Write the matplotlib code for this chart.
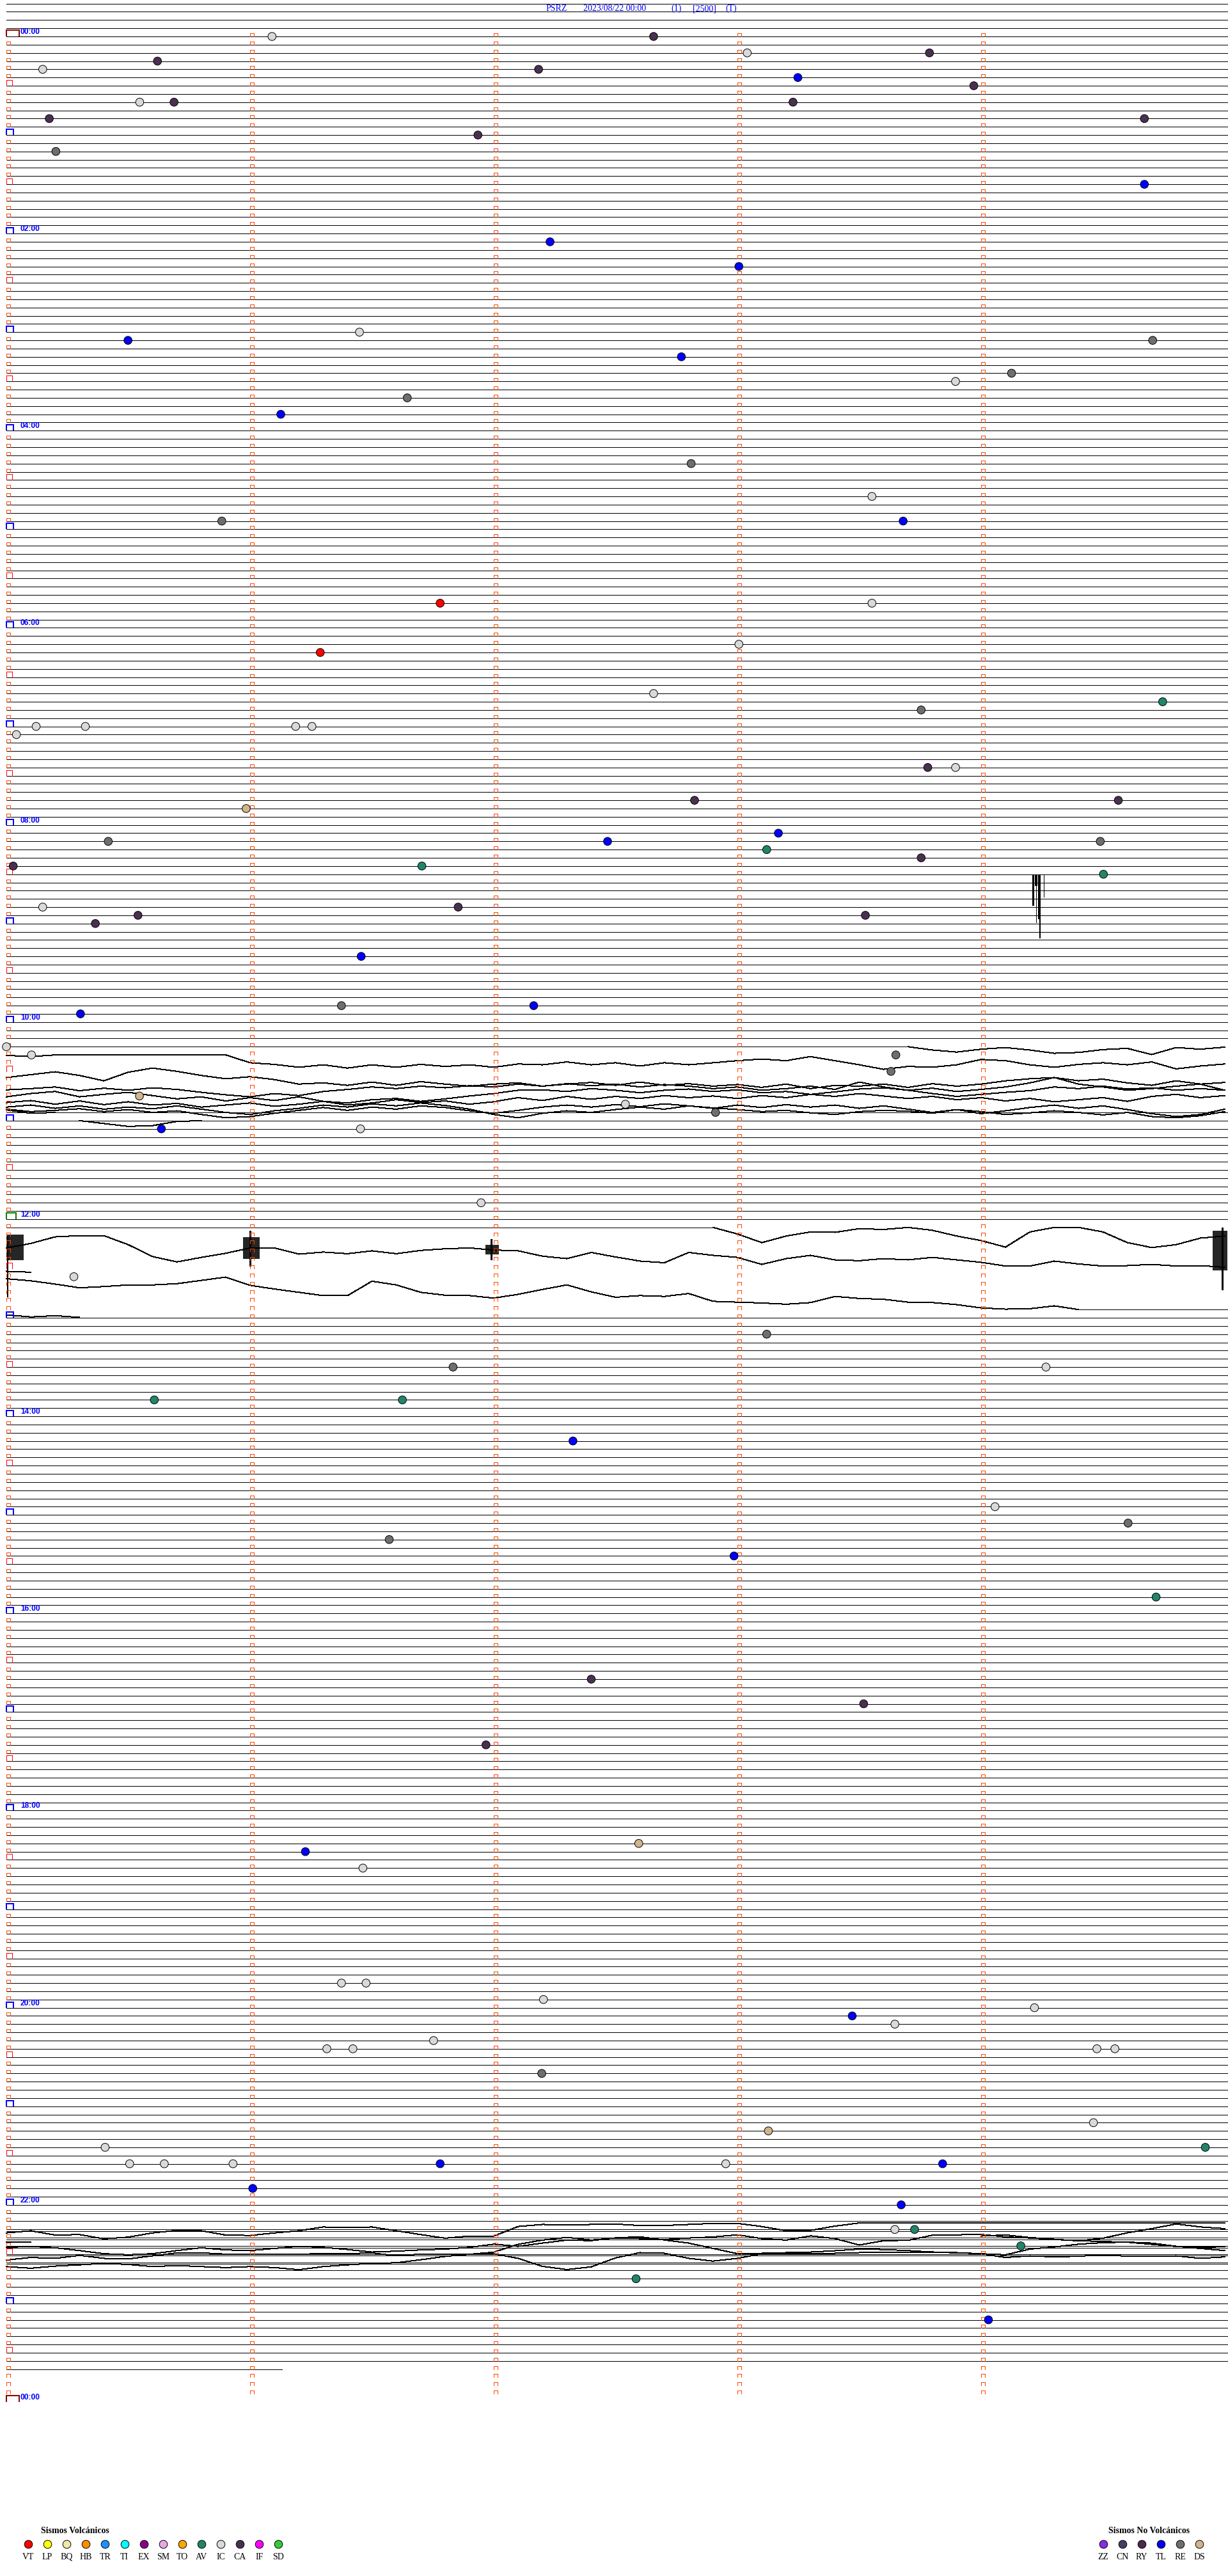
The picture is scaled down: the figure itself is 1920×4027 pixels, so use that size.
import matplotlib

matplotlib.use("Agg")

import matplotlib.pyplot as plt
from matplotlib.collections import LineCollection

FIG_W, FIG_H, DPI = 1920, 4027, 100
ONE_PX = 72 / DPI        # a one-pixel stroke in points

# helicorder layout: one row = 5 minutes, 12 rows per hour
ROWS_PER_HOUR = 12
FIRST_ROW = -4           # leftover rows of the previous day
LAST_ROW = 284           # row where the record stops
LAST_ROW_END = 1.13      # minutes into that row
BOXED_ROWS = 288
GAP_ROWS = list(range(147, 155))
DOUBLED_ROWS = [267, 268, 269, 270, 271]
SAMPLE_STEP = 0.1        # minutes between trace samples

TITLE_PARTS = ["PSRZ", "2023/08/22 00:00", "(1)", "[2500]", "(T)"]

# ---- events: row, minute inside the row, type ---------------------------------
EVENT_ROW = [0, 0, 2, 2, 3, 4, 4, 5, 6, 8, 8, 8, 10, 10, 12, 14, 18, 25, 28, 37,
             36, 37, 39, 41, 42, 44, 46, 52, 56, 59, 59, 69, 69, 74, 75, 80, 81, 82, 85, 84,
             84, 84, 84, 89, 89, 93, 93, 94, 98, 97, 98, 99, 98, 100, 101, 101, 102, 106, 106, 107,
             108, 107, 112, 118, 118, 119, 123, 124, 124, 126, 129, 130, 131, 133, 133, 142, 151, 158, 162, 162,
             166, 166, 171, 179, 181, 183, 185, 190, 200, 203, 208, 220, 221, 223, 237, 237, 239, 240, 241, 242,
             245, 245, 244, 245, 245, 248, 254, 255, 257, 257, 259, 259, 259, 259, 259, 259, 262, 264, 267, 267,
             269, 273, 278]
EVENT_MIN = [1.09, 2.656, 3.788, 3.04, 0.62, 0.149, 2.184, 3.248, 3.97, 0.547, 0.688, 3.228, 0.176, 4.67, 1.935, 0.203, 4.67, 2.231, 3.006, 0.499,
             1.449, 4.704, 2.77, 4.125, 3.895, 1.645, 1.126, 2.81, 3.552, 3.68, 0.884, 1.78, 3.552, 3.006, 1.288, 2.656, 4.745, 3.754, 0.041, 0.122,
             0.324, 1.187, 1.254, 3.781, 3.895, 2.824, 4.563, 0.984, 0.418, 3.168, 2.467, 3.12, 4.489, 3.754, 0.028, 1.705, 4.502, 0.149, 1.854, 0.54,
             0.365, 3.525, 1.456, 1.375, 2.164, 0.304, 0.0, 0.103, 3.65, 3.63, 0.546, 2.54, 2.91, 0.636, 1.453, 1.948, 0.277, 3.12, 1.833, 4.266,
             0.607, 1.625, 2.325, 4.057, 4.603, 1.571, 2.986, 4.718, 2.4, 3.518, 1.968, 2.595, 1.227, 1.463, 1.375, 1.476, 2.204, 4.219, 3.471, 3.646,
             1.315, 1.422, 1.753, 4.475, 4.549, 2.197, 4.461, 3.127, 0.405, 4.92, 0.506, 0.648, 0.93, 1.78, 2.952, 3.842, 1.011, 3.672, 3.646, 3.727,
             4.163, 2.584, 4.03]
EVENT_TYPE = ["IC", "CA", "CA", "IC", "CA", "IC", "CA", "TL", "CA", "IC", "CA", "CA", "CA", "CA", "CA", "RE", "TL", "TL", "TL", "TL",
              "IC", "RE", "TL", "RE", "IC", "RE", "TL", "RE", "IC", "TL", "RE", "VT", "IC", "IC", "VT", "IC", "AV", "RE", "IC", "IC",
              "IC", "IC", "IC", "CA", "IC", "CA", "CA", "DS", "RE", "TL", "TL", "AV", "RE", "CA", "CA", "AV", "AV", "IC", "CA", "CA",
              "CA", "CA", "TL", "RE", "TL", "TL", "IC", "IC", "RE", "RE", "DS", "IC", "RE", "TL", "IC", "IC", "IC", "RE", "RE", "IC",
              "AV", "AV", "TL", "IC", "RE", "RE", "TL", "AV", "CA", "CA", "CA", "DS", "TL", "IC", "IC", "IC", "IC", "IC", "TL", "IC",
              "IC", "IC", "IC", "IC", "IC", "RE", "IC", "DS", "IC", "AV", "IC", "IC", "IC", "TL", "IC", "TL", "TL", "TL", "IC", "AV",
              "AV", "AV", "TL"]

# ---- legend ---------------------------------------------------------------------
VOLC_CODES = ["VT", "LP", "BQ", "HB", "TR", "TI", "EX", "SM", "TO", "AV", "IC", "CA", "IF", "SD"]
VOLC_COLORS = ["#ff0000", "#ffff00", "#eee8aa", "#ff8c00", "#1e90ff", "#00ffff", "#8b008b",
               "#e6a8e6", "#ffa500", "#21856a", "#d9d9d9", "#4a3050", "#ff00ff", "#32cd32"]
NONVOLC_CODES = ["ZZ", "CN", "RY", "TL", "RE", "DS"]
NONVOLC_COLORS = ["#8a2be2", "#4a3b66", "#4b2a4b", "#0000ff", "#6e6e6e", "#d2b48c"]

# ---- traces: offsets in row heights (positive = down), one sample every 0.1 min --
# 10:00 block
T123 = [0.0, 0.4, 0.65, 0.3, 0.1, 0.4, 0.8, 0.7, 0.35, 0.2, 0.95, 0.1, 0.3, 0.05]
T124 = [0.05, 0.2, 0, 0, 0, 0, 0, 0, 0, 0, 0.95, 1.15, 1.5, 1.2, 1.6, 1.2, 1.5, 1.15, 1.4, 1.2,
        1.5, 1.1, 1.2, 0.85, 1.2, 0.95, 1.35, 0.95, 1.2, 0.95, 0.7, 0.5, 0.7, 0.2, 0.7, 1.2, 1.75, 1.4, 1.5, 1.2,
        0.55, 0.7, 1.2, 1.5, 1.15, 0.95, 1.2, 0.85, 1.7, 1.35, 1.1]
T125 = [1.75, 1.4, 1.05, 1.5, 2.15, 1.1, 0.6, 1.0, 1.5, 1.9, 1.65, 2.0, 2.55, 2.4, 2.7, 2.3, 2.7, 2.25, 2.55, 2.8,
        2.55, 2.4, 2.8, 2.55, 2.35, 2.7, 2.3, 2.7, 2.5, 2.8, 2.6, 2.95, 2.55, 3.1, 2.7, 2.8, 2.55, 2.95, 2.5, 2.8,
        2.55, 2.15, 1.9, 1.75, 2.15, 1.95, 2.4, 2.7, 2.15, 2.55, 2.35]
T126 = [2.25, 2.1, 1.9, 2.35, 2.05, 2.3, 2.0, 2.2, 2.55, 2.85, 3.1, 2.7, 2.95, 2.45, 2.2, 1.9, 2.1, 1.8, 2.0, 1.75,
        1.9, 1.55, 1.8, 1.5, 1.75, 1.55, 1.9, 1.6, 1.8, 2.1, 1.9, 2.3, 2.1, 1.8, 2.2, 1.3, 1.9, 2.3, 2.05, 2.45,
        2.2, 1.9, 1.4, 0.75, 1.55, 1.9, 2.3, 2.1, 1.8, 1.55, 2.3]
T127 = [2.1, 1.7, 1.45, 2.1, 1.8, 1.55, 1.95, 2.35, 2.1, 2.6, 2.2, 2.55, 2.1, 2.65, 2.85, 2.45, 2.3, 2.65, 2.35, 2.0,
        1.7, 1.3, 1.25, 1.45, 1.1, 1.3, 1.6, 1.3, 1.15, 1.45, 1.25, 1.6, 1.45, 1.8, 1.5, 1.15, 1.0, 1.3, 1.7, 2.05,
        1.8, 1.55, 1.35, 0.9, 1.1, 0.8, 1.15, 1.0, 1.3, 1.1, 1.3]
T128 = [1.8, 1.55, 2.0, 1.6, 2.05, 1.7, 2.1, 1.9, 2.35, 2.1, 1.85, 2.25, 2.0, 1.65, 2.1, 1.85, 1.45, 1.8, 1.6, 2.0,
        1.7, 1.2, 1.55, 1.05, 1.4, 1.05, 1.3, 0.95, 1.2, 1.0, 1.3, 0.95, 1.2, 0.8, 1.05, 0.7, 1.0, 1.3, 1.05, 1.45,
        1.2, 1.6, 1.3, 1.7, 1.45, 1.2, 1.65, 1.05, 0.8, 1.2, 0.95]
T129 = [1.35, 1.1, 1.5, 1.2, 1.6, 1.35, 1.55, 1.2, 1.6, 2.0, 2.25, 1.8, 1.5, 1.1, 1.35, 0.95, 1.2, 0.85, 1.15, 1.6,
        2.25, 2.65, 2.1, 1.8, 2.0, 1.65, 1.35, 1.6, 1.2, 1.5, 1.1, 1.4, 1.05, 1.35, 1.1, 1.5, 1.2, 1.6, 2.0, 1.65,
        2.15, 1.8, 1.4, 1.1, 1.5, 1.2, 1.65, 2.15, 2.5, 2.25, 1.6]
T130 = [0.6, 0.9, 0.75, 0.55, 0.9, 0.65, 1.0, 0.8, 1.25, 1.65, 1.5, 1.1, 0.75, 0.4, 0.75, 0.35, 0.6, 0.2, 0.4, 0.8,
        1.1, 0.75, 0.35, 0.1, 0.35, 0.05, 0.3, -0.05, 0.2, 0.45, 0.65, 0.9, 0.75, 1.05, 1.25, 0.9, 0.75, 0.85, 1.1, 0.65,
        0.9, 1.25, 1.05, 0.8, 1.0, 1.3, 1.0, 1.5, 1.65, 1.4, 0.9]
T131 = [-0.3, 0.1, 0.0]
T132 = [0.0, 0.35, 0.7, 0.6, 0.1, 0.0]
# 12:00 block
T145 = [0, 0.8, 1.85, 1.05, 0.55, 0.6, 0.15, 0.25, 0, 0.35, 1.05, 1.6, 2.4, 0.55, 0, 0, 0.55, 1.85, 2.45, 2.1,
        1.3, 1.05]
T146 = [1.5, 0.95, 0.15, 0, 0, 1.1, 2.55, 3.2, 2.65, 2.15, 1.5, 1.5, 2.25, 2.0, 2.2, 1.85, 2.2, 1.8, 1.6, 1.5,
        1.75, 1.85, 2.5, 2.8, 2.05, 2.6, 3.1, 3.3, 2.05, 2.4, 2.65, 3.5, 2.8, 2.4, 2.95, 3.05, 2.8, 2.95, 2.65, 2.95,
        3.25, 3.7, 3.7, 3.1, 3.45, 3.7, 3.65, 3.5, 3.7, 3.65, 3.85]
T147 = [3.35, 3.45]
T155 = [-3.75, -3.5, -3.1, -2.65, -2.8, -3.0, -3.0, -3.15, -3.55, -3.95, -2.95, -2.5, -2.1, -1.7, -1.7, -3.45, -3.0,
        -2.1, -1.75, -1.7, -1.4, -1.85, -2.45, -3.0, -2.15, -1.5, -1.7, -1.6, -1.95, -1.0, -0.9, -0.8, -0.65, -0.85,
        -1.6, -1.35, -1.25, -0.9, -0.85, -0.6, -0.2, -0.05, -0.1, -0.45, 0]
T156 = [-0.35, -0.1, -0.25, -0.05]
# 22:00 block
T266 = [1.42, 1.16, 1.68, 1.62, 2.14, 1.93, 1.42, 1.11, 1.16, 1.68, 1.73, 1.42, 1.16, 0.7, 0.77, 0.7, 1.16, 1.62,
        2.06, 1.8, 1.8, 0.64, 0.39, 0.44, 0.39, 0.34, 0.52, 0.52, 0.39, 0.26, 0.26, 0.64, 1.16, 1.11, 0.59, 0.21,
        0.21, 0.21, 0.21, 0.21, 0.21, 0.21, 0.21, 0.21, 0.21, 0.21, 0.21, 0.21, 0.21, 0.21, 0.21]
T267A = [1.57, 1.5]
T267B = [0.8, 0.67, 0.98, 1.19, 1.39, 1.06, 0.41, -0.1, -0.67, -0.31, -0.1]
T269 = [0.18, 0.05, 0.23, 0.57, 0.95, 1.08, 0.95, 0.57, 0.23, 0.49, 0.57, 0.31, 0.05, 0.18, 0.44, 0.75, 0.64, 0.49,
        0.39, 0.18, -0.21, 0.05, -0.34, -0.7, -0.64, -0.98, -1.11, -0.72, -0.34, 0.31, 0.95, 0.9, 0.82, 0.75, 0.59,
        0.39, 0.44, 0.57, 0.75, 0.85, 0.95, 1.08, 0.39, 0.13, -0.21, -0.39, -0.46, -0.34, 0.05, 0.31, 0.57]
T270 = [0.72, 0.41, 0.52, 0.15, 0.52, 0.59, 0.21, -0.15, -0.15, 0, 0, 0.05, 0, -0.05, -0.05, -0.15, 0.21, 0, 0,
        0.05, -0.05, 0.52, 1.49, 1.88, 1.55, 0.46, -0.18, -0.1, 0.52, 0.85, 0.52, -0.05, -0.1, -0.05, -0.1, -0.18,
        -0.18, -0.18, -0.26, -0.18, -0.05, 0.41, 0.21, 0.34, 0.26, 0.08, 0.26, 0.26, 0.21, 0.52, 0.34]
T271 = [0.52, 0.72, 0.46, 0.31, 0.13, 0.26, 0.52, 0.39, 0.52, 0.64, 0.52, 0.64, 0.9, 0.52, 0.31, 0.13, 0.05, -0.31,
        -0.72, -0.98, -1.24, -2.19, -2.71, -3.04, -2.71, -2.96, -2.89, -2.78, -2.96, -3.09, -3.35, -2.89, -2.71,
        -3.22, -2.89, -2.11, -2.63, -2.68, -3.3, -3.35, -3.4, -3.09, -2.96, -2.78, -2.63, -2.53, -2.45, -2.19, -1.93,
        -1.8, -1.93]

# (row, start minute, samples, trace replaces the base line)
TRACES = [
    (123, 3.7, T123, True), (124, 0.0, T124, True), (125, 0.0, T125, True), (126, 0.0, T126, True),
    (127, 0.0, T127, True), (128, 0.0, T128, True), (129, 0.0, T129, True), (130, 0.0, T130, True),
    (131, 0.0, T131, False), (132, 0.3, T132, False),
    (145, 2.9, T145, True), (146, 0.0, T146, True), (147, 0.0, T147, True), (155, 0.0, T155, True),
    (156, 0.0, T156, False),
    (266, 0.0, T266, False), (267, 0.0, T267A, False), (267, 4.0, T267B, False), (269, 0.0, T269, False),
    (270, 0.0, T270, False), (271, 0.0, T271, False),
]

# dense bursts: row, minute from, minute to, top, bottom (row heights)
BURST_ROW = [146, 146, 146, 145]
BURST_FROM = [0.0, 0.97, 1.965, 4.95]
BURST_TO = [0.07, 1.04, 2.02, 5.01]
BURST_TOP = [-0.15, 0.2, 1.1, 0.4]
BURST_BOTTOM = [3.0, 2.8, 2.3, 5.2]

# single strokes: row, minute, top, bottom, width in px
SPIKE_ROW = [146, 146, 146, 145, 102, 102, 102, 102, 102, 102, 102]
SPIKE_MIN = [0.005, 1.0, 1.99, 4.99, 4.212, 4.213, 4.226, 4.227, 4.240, 4.242, 4.257]
SPIKE_TOP = [0.0, -0.6, 0.4, 0.0, 0, 0, 0, 0, 0, 0, 0]
SPIKE_BOTTOM = [7.5, 3.7, 2.9, 7.6, 2.35, 3.8, 1.45, 5.85, 5.45, 7.8, 2.75]
SPIKE_WIDTH = [1.5, 1.2, 1.2, 1.2, 3.0, 1.2, 2.5, 1.0, 3.7, 2.0, 1.0]


def main() -> None:
    px_per_min = 381.0
    px_per_row = 12.84
    fig = plt.figure(figsize=(FIG_W / DPI, FIG_H / DPI), dpi=DPI)
    ax = fig.add_axes([0, 0, 1, 1])
    ax.set_xlim(-10 / px_per_min, (FIG_W - 10) / px_per_min)
    ax.set_ylim((FIG_H - 57) / px_per_row, -57 / px_per_row)
    ax.axis("off")

    # base lines
    replaced = {}
    for row, start, vals, repl in TRACES:
        if repl:
            replaced[row] = (start, start + SAMPLE_STEP * (len(vals) - 1))
    segs = []
    for row in range(FIRST_ROW, LAST_ROW + 1):
        if row in GAP_ROWS:
            continue
        end = LAST_ROW_END if row == LAST_ROW else 5.05
        if row in replaced:
            a, b = replaced[row]
            if a > 0:
                segs.append([(0, row), (a, row)])
            if b < 4.99:
                segs.append([(b, row), (end, row)])
        else:
            segs.append([(0, row), (end, row)])
    for row in DOUBLED_ROWS:
        segs.append([(0, row + 0.2), (5.05, row + 0.2)])
    ax.add_collection(LineCollection(segs, colors="black", linewidths=ONE_PX,
                                     antialiaseds=False, zorder=2))

    for row, start, vals, _ in TRACES:
        xs = [start + SAMPLE_STEP * i for i in range(len(vals))]
        ys = [row + v for v in vals]
        ax.plot(xs, ys, color="black", lw=ONE_PX, antialiased=False, zorder=3)

    for r, a, b, t, d in zip(BURST_ROW, BURST_FROM, BURST_TO, BURST_TOP, BURST_BOTTOM):
        ax.fill_between([a, b], r + t, r + d, color="black", lw=0, alpha=0.85, zorder=3)
    for r, m, t, d, w in zip(SPIKE_ROW, SPIKE_MIN, SPIKE_TOP, SPIKE_BOTTOM, SPIKE_WIDTH):
        ax.vlines(m, r + t, r + d, color="black", linewidth=w * ONE_PX, antialiased=False, zorder=3)

    # minute marker boxes
    box_segs, box_cols, box_lw = [], [], []
    for row in range(BOXED_ROWS + 1):
        for col in range(5):
            if row == BOXED_ROWS and col > 0:
                continue
            w, h, c, lw = 6, 5, "#ff4500", ONE_PX
            if col == 0 and row % ROWS_PER_HOUR == 0:
                if row % 288 == 0:
                    w, h, c, lw = 20, 10, "#8b0000", 2 * ONE_PX
                elif row == 144:
                    w, h, c, lw = 15, 10, "#008000", 2 * ONE_PX
                else:
                    w, h, c, lw = 11, 9, "#0000ff", 2 * ONE_PX
            elif col == 0 and row % ROWS_PER_HOUR == 6:
                w, h, c, lw = 9, 9, "#ff0000", ONE_PX
            elif row == BOXED_ROWS:
                continue
            x0 = col
            x1 = col + w / px_per_min
            y1 = row - h / px_per_row
            box_segs.append([(x0, row), (x0, y1), (x1, y1), (x1, row)])
            box_cols.append(c)
            box_lw.append(lw)
    ax.add_collection(LineCollection(box_segs, colors=box_cols, linewidths=box_lw,
                                     antialiaseds=False, zorder=4))

    # hour labels
    for hour in range(0, 25, 2):
        ax.text(22 / px_per_min, hour * ROWS_PER_HOUR - 0.08, f"{hour % 24:02d}:00",
                color="#0000ff", fontsize=8.6, fontweight="bold", family=["Liberation Sans"],
                ha="left", va="bottom", zorder=5)

    # events
    colors = dict(zip(VOLC_CODES + NONVOLC_CODES, VOLC_COLORS + NONVOLC_COLORS))
    ax.scatter(EVENT_MIN, EVENT_ROW, s=82, c=[colors[t] for t in EVENT_TYPE],
               edgecolors="black", linewidths=0.7, zorder=6)

    # title
    title_x = [854, 912, 1049, 1083, 1134]
    for text, x in zip(TITLE_PARTS, title_x):
        fig.text(x / FIG_W, 1 - 13.5 / FIG_H, text, color="#0000ff", fontsize=10,
                 family=["Liberation Serif"], ha="left", va="center")

    # legends
    def fx(x):
        return x / FIG_W

    def fy(y):
        return 1 - y / FIG_H

    fig.text(fx(64), fy(3957), "Sismos Volcánicos", fontsize=10, fontweight="bold",
             family=["Liberation Serif"], ha="left", va="center")
    for i, (code, col) in enumerate(zip(VOLC_CODES, VOLC_COLORS)):
        x = 44 + 30.1 * i
        ax.scatter([fx(x)], [fy(3977)], s=82, c=[col], edgecolors="black", linewidths=0.7,
                   transform=fig.transFigure, clip_on=False, zorder=6)
        fig.text(fx(x), fy(3997), code, fontsize=10, family=["Liberation Serif"], ha="center", va="center")

    fig.text(fx(1733), fy(3957), "Sismos No Volcánicos", fontsize=10, fontweight="bold",
             family=["Liberation Serif"], ha="left", va="center")
    for i, (code, col) in enumerate(zip(NONVOLC_CODES, NONVOLC_COLORS)):
        x = 1725 + 30 * i
        ax.scatter([fx(x)], [fy(3977)], s=82, c=[col], edgecolors="black", linewidths=0.7,
                   transform=fig.transFigure, clip_on=False, zorder=6)
        fig.text(fx(x), fy(3997), code, fontsize=10, family=["Liberation Serif"], ha="center", va="center")

    fig.savefig("out.png", dpi=DPI, facecolor="white")


if __name__ == "__main__":
    main()
